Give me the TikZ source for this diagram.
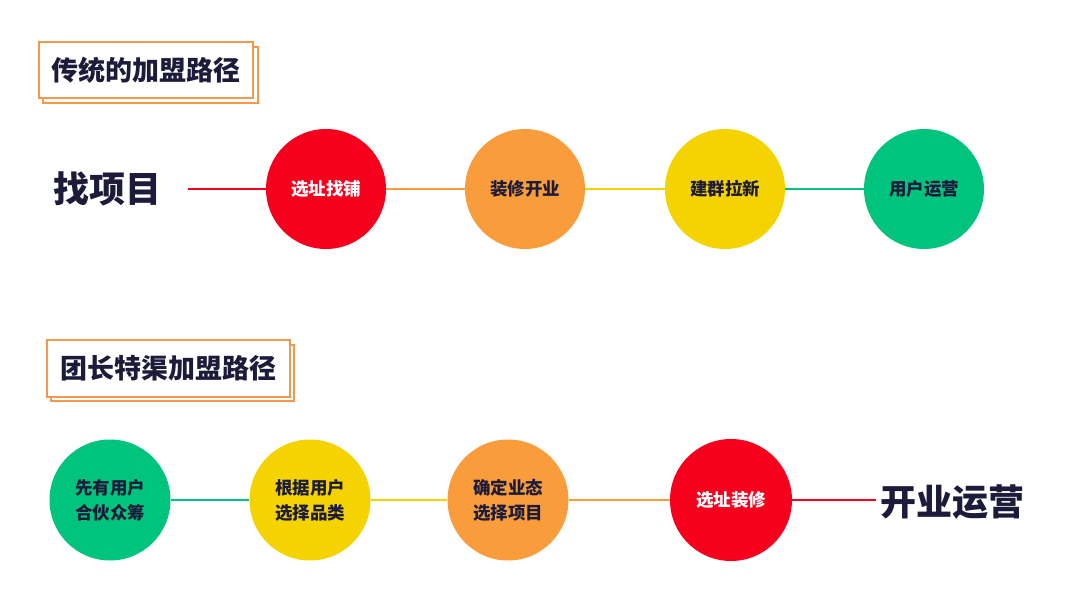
\documentclass[tikz,border=0pt]{standalone}
\usepackage{fontspec}
\newfontfamily\cjk{Noto Sans CJK SC}
\setmainfont{Noto Sans CJK SC}
\definecolor{cred}{HTML}{F7001E}
\definecolor{corange}{HTML}{F99C3B}
\definecolor{cyellow}{HTML}{F5D300}
\definecolor{cgreen}{HTML}{00C47E}
\definecolor{navy}{HTML}{1C1C3A}
\definecolor{boxor}{HTML}{F4994C}
\begin{document}
\begin{tikzpicture}[x=1pt,y=-1pt,
  stage/.style={circle,minimum size=120pt,inner sep=0pt,align=center,
    font=\cjk\bfseries\fontsize{17.5}{25}\selectfont,text=navy},
  big/.style={font=\cjk\bfseries\fontsize{36}{40}\selectfont,text=navy,inner sep=0pt},
  titlebox/.style={draw=boxor,line width=1.3pt,fill=white,inner sep=0pt,
    font=\cjk\bfseries\fontsize{27}{30}\selectfont,text=navy},
  link/.style={line width=2pt}]
\useasboundingbox (0,0) rectangle (1080,613);
% title boxes
\draw[boxor,line width=1.3pt,fill=white] (43,47) rectangle (258,103);
\node[titlebox,minimum width=214pt,minimum height=56pt] (t1) at (146,70) {传统的加盟路径};
\draw[boxor,line width=1.3pt,fill=white] (51,345) rectangle (294,401);
\node[titlebox,minimum width=243pt,minimum height=57pt] (t2) at (168.5,368.5) {团长特渠加盟路径};
% top row
\node[big] (s) at (107,189) {找项目};
\node[stage,fill=cred,text=white] (a1) at (326,189) {选址找铺};
\node[stage,fill=corange] (a2) at (525,189) {装修开业};
\node[stage,fill=cyellow] (a3) at (725,189) {建群拉新};
\node[stage,fill=cgreen] (a4) at (924,189) {用户运营};
\coordinate (s0) at (188,189);
\draw[link,cred] (s0) -- (a1.west);
\draw[link,corange] (a1.east) -- (a2.west);
\draw[link,cyellow] (a2.east) -- (a3.west);
\draw[link,cgreen] (a3.east) -- (a4.west);
% bottom row
\node[stage,fill=cgreen,minimum size=121pt] (b1) at (110,500) {先有用户\\合伙众筹};
\node[stage,fill=cyellow,minimum size=121pt] (b2) at (310,500) {根据用户\\选择品类};
\node[stage,fill=corange,minimum size=121pt] (b3) at (508,500) {确定业态\\选择项目};
\node[stage,fill=cred,text=white,minimum size=122pt] (b4) at (731,500) {选址装修};
\node[big] (e) at (952,502) {开业运营};
\coordinate (e0) at (876,500);
\draw[link,cgreen] (b1.east) -- (b2.west);
\draw[link,cyellow] (b2.east) -- (b3.west);
\draw[link,corange] (b3.east) -- (b4.west);
\draw[link,cred] (b4.east) -- (e0);
\end{tikzpicture}
\end{document}
